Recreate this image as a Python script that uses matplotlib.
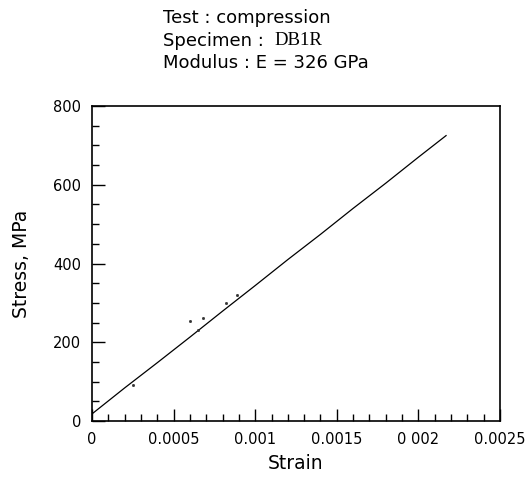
import numpy as np
import matplotlib.pyplot as plt
from matplotlib.ticker import MultipleLocator

# stress-strain curve
strain = [0.0, 0.0002, 0.0004, 0.0006, 0.0008, 0.0010, 0.0012, 0.0014, 0.0016, 0.0018, 0.0020, 0.00217]
stress = [18, 84, 148, 213, 279, 344, 410, 474, 540, 604, 670, 725]

# a few stray points off the line
stray_strain = [0.00025, 0.00060, 0.00068, 0.00082, 0.00089, 0.00065]
stray_stress = [92, 255, 261, 299, 320, 232]

xticks = [0, 0.0005, 0.001, 0.0015, 0.002, 0.0025]
xticklabels = ["0", "0.0005", "0.001", "0.0015", "0 002", "0.0025"]
yticks = [0, 200, 400, 600, 800]

fig = plt.figure(figsize=(5.29, 4.8), dpi=100)
ax = fig.add_axes([0.174, 0.123, 0.771, 0.656])

ax.plot(strain, stress, color="black", lw=0.9)
ax.plot(stray_strain, stray_stress, ls="none", marker="s", ms=1.0, color="0.2")

ax.set_xlim(0, 0.0025)
ax.set_ylim(0, 800)
ax.set_xticks(xticks)
ax.set_xticklabels(xticklabels)
ax.set_yticks(yticks)
ax.xaxis.set_minor_locator(MultipleLocator(0.0001))
ax.yaxis.set_minor_locator(MultipleLocator(50))
ax.tick_params(which="major", direction="in", length=9, width=1, labelsize=10.5, pad=8)
ax.tick_params(which="minor", direction="in", length=5, width=1)
for s in ax.spines.values():
    s.set_linewidth(1.2)

ax.set_xlabel("Strain", fontsize=13.5, labelpad=5)
ax.set_ylabel("Stress, MPa", fontsize=13.5, labelpad=16)

# header text
fig.text(0.308, 0.962, "Test : compression", fontsize=13, va="center")
fig.text(0.308, 0.915, "Specimen : ", fontsize=13, va="center")
fig.text(0.518, 0.915, "DB1R", fontsize=13.5, va="center", family="Liberation Serif")
fig.text(0.308, 0.868, "Modulus : E = 326 GPa", fontsize=13, va="center")

fig.savefig("out.png", dpi=100)
